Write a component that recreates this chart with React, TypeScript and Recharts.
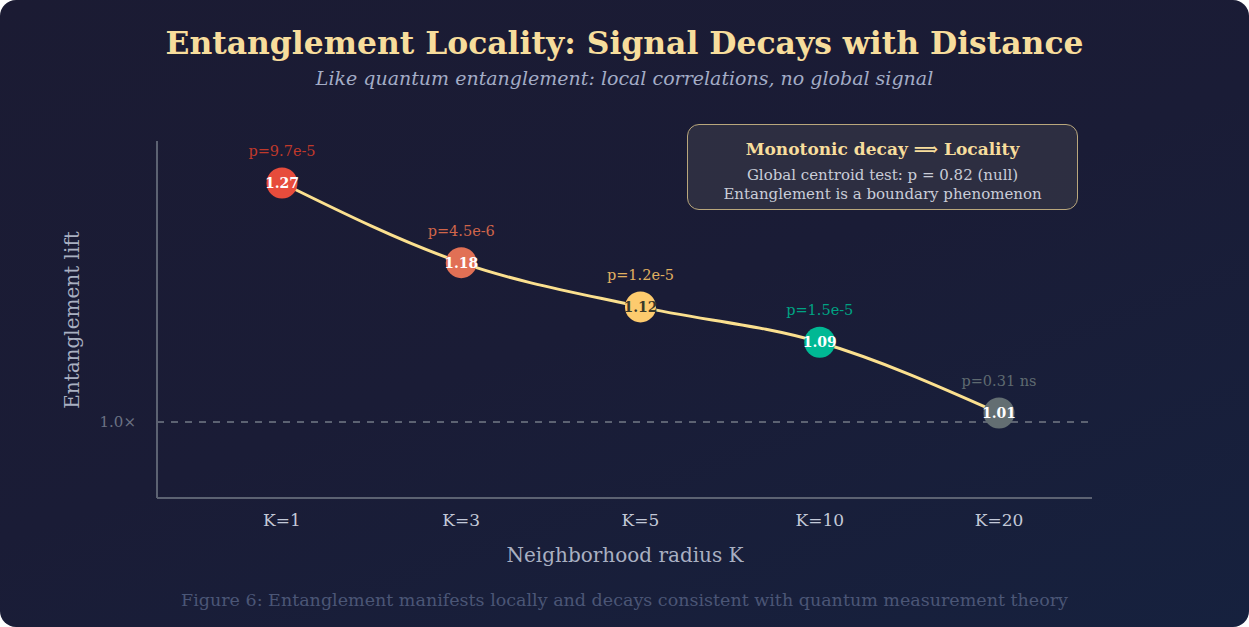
import React from 'react';
import { LineChart, Line, XAxis, YAxis, ReferenceLine, LabelList } from 'recharts';

const categories = ['K=1', 'K=3', 'K=5', 'K=10', 'K=20'];
const liftValues = [1.27, 1.18, 1.13, 1.09, 1.01];
const liftLabels = ['1.27', '1.18', '1.12', '1.09', '1.01'];
const pLabels = ['p=9.7e-5', 'p=4.5e-6', 'p=1.2e-5', 'p=1.5e-5', 'p=0.31 ns'];
const dotColors = ['#e74c3c', '#e17055', '#fdcb6e', '#00b894', '#636e72'];
const pColors = ['#c0392b', '#d0654a', '#e0b060', '#00a383', '#5f6a70'];
const valueTextColors = ['#ffffff', '#ffffff', '#3a3a2a', '#ffffff', '#ffffff'];

const data = categories.map((k, i) => ({
  k,
  lift: liftValues[i],
  liftLabel: liftLabels[i],
  p: pLabels[i],
  idx: i,
}));

const FONT = "'DejaVu Serif', serif";
const W = 1249;
const H = 627;

const CircleDot = (props: any) => {
  const { cx, cy, index } = props;
  if (cx == null || cy == null) return null;
  return <circle key={`c${index}`} cx={cx} cy={cy} r={15.5} fill={dotColors[index]} />;
};

const ValueLabel = (props: any) => {
  const { x, y, index } = props;
  return (
    <g>
      <text
        x={x}
        y={y}
        dy={5}
        textAnchor="middle"
        fontFamily={FONT}
        fontWeight="bold"
        fontSize={14}
        fill={valueTextColors[index]}
      >
        {liftLabels[index]}
      </text>
      <text
        x={x}
        y={y - 32}
        dy={5}
        textAnchor="middle"
        fontFamily={FONT}
        fontSize={14.5}
        fill={pColors[index]}
      >
        {pLabels[index]}
      </text>
    </g>
  );
};

export default function App() {
  return (
    <div
      style={{
        position: 'absolute',
        left: 0,
        top: 0,
        width: W,
        height: H,
        borderRadius: 16,
        overflow: 'hidden',
        background: 'linear-gradient(160deg, #1b1b33 0%, #1a1c36 50%, #16213e 100%)',
        fontFamily: FONT,
      }}
    >
      <div
        style={{
          position: 'absolute',
          left: 0,
          width: W,
          top: 23,
          textAlign: 'center',
          fontSize: 31.4,
          fontWeight: 'bold',
          color: '#f7dd9c',
          lineHeight: '40px',
          whiteSpace: 'nowrap',
        }}
      >
        Entanglement Locality: Signal Decays with Distance
      </div>
      <div
        style={{
          position: 'absolute',
          left: 0,
          width: W,
          top: 66,
          textAlign: 'center',
          fontSize: 19,
          fontStyle: 'italic',
          color: '#a3acc6',
          lineHeight: '24px',
          whiteSpace: 'nowrap',
        }}
      >
        Like quantum entanglement: local correlations, no global signal
      </div>

      <div style={{ position: 'absolute', left: 0, top: 0 }}>
        <LineChart
          width={W}
          height={H}
          data={data}
          margin={{ top: 141, right: 157, bottom: 99, left: 97 }}
        >
          <XAxis
            dataKey="k"
            type="category"
            padding={{ left: 125, right: 93 }}
            axisLine={{ stroke: '#5c6272', strokeWidth: 2 }}
            tickLine={false}
            tickMargin={10}
            height={30}
            tick={{ fill: '#c3c9d8', fontSize: 17, fontFamily: FONT }}
          />
          <YAxis
            type="number"
            domain={[0.914, 1.3175]}
            ticks={[1.0]}
            tickFormatter={(v: number) => `${v.toFixed(1)}×`}
            width={60}
            axisLine={{ stroke: '#5c6272', strokeWidth: 2 }}
            tickLine={false}
            tickMargin={15}
            tick={{ fill: '#6b7283', fontSize: 15, fontFamily: FONT }}
          />
          <ReferenceLine
            y={1.0}
            stroke="#5c6272"
            strokeWidth={2}
            strokeDasharray="7 7"
          />
          <Line
            dataKey="lift"
            type="monotone"
            stroke="none"
            dot={<CircleDot />}
            activeDot={false}
            isAnimationActive={false}
          />
          <Line
            dataKey="lift"
            type="monotone"
            stroke="#fbe08f"
            strokeWidth={3}
            dot={false}
            activeDot={false}
            isAnimationActive={false}
          >
            <LabelList dataKey="liftLabel" content={<ValueLabel />} />
          </Line>
        </LineChart>
      </div>

      <div
        style={{
          position: 'absolute',
          left: 72 - 150,
          top: 320 - 12,
          width: 300,
          height: 24,
          lineHeight: '24px',
          textAlign: 'center',
          fontSize: 20,
          color: '#a9b0c2',
          transform: 'rotate(-90deg)',
          whiteSpace: 'nowrap',
        }}
      >
        Entanglement lift
      </div>
      <div
        style={{
          position: 'absolute',
          left: 0,
          width: W,
          top: 543,
          fontSize: 20,
          color: '#a9b0c2',
          lineHeight: '24px',
        }}
      >
        <span style={{ position: 'absolute', left: 625, transform: 'translateX(-50%)', whiteSpace: 'nowrap' }}>
          Neighborhood radius K
        </span>
      </div>
      <div
        style={{
          position: 'absolute',
          left: 0,
          width: W,
          top: 590,
          textAlign: 'center',
          fontSize: 17.5,
          color: '#4b5676',
          lineHeight: '20px',
          whiteSpace: 'nowrap',
        }}
      >
        Figure 6: Entanglement manifests locally and decays consistent with quantum measurement theory
      </div>

      <div
        style={{
          position: 'absolute',
          left: 687,
          top: 124,
          width: 391,
          height: 86,
          boxSizing: 'border-box',
          border: '1.5px solid #b9a77c',
          borderRadius: 12,
          background: 'rgba(62, 62, 74, 0.55)',
          textAlign: 'center',
        }}
      >
        <div
          style={{
            marginTop: 13,
            fontSize: 17,
            fontWeight: 'bold',
            color: '#f7dd9c',
            lineHeight: '22px',
            whiteSpace: 'nowrap',
          }}
        >
          Monotonic decay ⟹ Locality
        </div>
        <div style={{ marginTop: 6, fontSize: 15, color: '#c9cdd8', lineHeight: '19px', whiteSpace: 'nowrap' }}>
          Global centroid test: p = 0.82 (null)
        </div>
        <div style={{ fontSize: 15, color: '#c9cdd8', lineHeight: '19px', whiteSpace: 'nowrap' }}>
          Entanglement is a boundary phenomenon
        </div>
      </div>
    </div>
  );
}
